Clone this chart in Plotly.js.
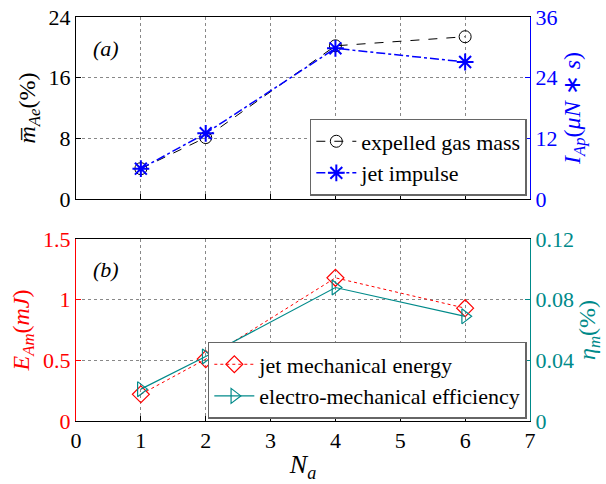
<!DOCTYPE html>
<html><head><meta charset="utf-8">
<script src="https://cdn.plot.ly/plotly-3.0.1.min.js"></script>
<style>
body{margin:0;padding:0;background:#fff}#chart{width:606px;height:484px}
</style>
</head><body><div id="chart"></div>
<script>
const Na = [1, 2, 4, 6];
const gasMass = [4.0, 8.1, 20.2, 21.4];      // left axis (%)
const jetImpulse = [6.0, 13.0, 29.8, 27.1];  // right axis (uN*s)
const mechEnergy = [0.22, 0.51, 1.18, 0.93]; // left axis (mJ)
const efficiency = [0.021, 0.0425, 0.088, 0.069]; // right axis (%)
const xTicks = [0,1,2,3,4,5,6,7];

const FONT = 'Liberation Serif';
const TEAL = '#008a8a';
function F(size, color) { return {family: FONT, size: size, color: color || '#000'}; }

const traces = [
  {x: Na, y: gasMass, name: 'expelled gas mass', xaxis:'x', yaxis:'y', mode:'lines+markers',
   line:{color:'#000', dash:'dash', width:1}, marker:{symbol:'circle-open', size:12, color:'#000', line:{width:1}}, legend:'legend'},
  {x: Na, y: jetImpulse, name: 'jet impulse', xaxis:'x', yaxis:'y2', mode:'lines+markers',
   line:{color:'#0000ff', dash:'dashdot', width:1.5}, marker:{symbol:'asterisk-open', size:14, color:'#0000ff', line:{width:2, color:'#0000ff'}}, legend:'legend'},
  {x: Na, y: mechEnergy, name: 'jet mechanical energy', xaxis:'x2', yaxis:'y3', mode:'lines+markers',
   line:{color:'#ff0000', dash:'dot', width:1}, marker:{symbol:'diamond-open', size:13, color:'#ff0000', line:{width:1.2}}, legend:'legend2'},
  {x: Na, y: efficiency, name: 'electro-mechanical efficiency', xaxis:'x2', yaxis:'y4', mode:'lines+markers',
   line:{color:TEAL, width:1.2}, marker:{symbol:'triangle-right-open', size:13, color:TEAL, line:{width:1.2}}, legend:'legend2'}
];

const GRID = '#888';
function xax(extra) {
  return Object.assign({range:[0,7], tickvals: xTicks, showline:true, mirror:true, linecolor:'#000', linewidth:1,
    ticks:'inside', ticklen:5, tickcolor:'#000', showgrid:true, gridcolor:GRID, griddash:'dot', gridwidth:1,
    zeroline:false, tickfont: F(22)}, extra);
}

const layout = {
  width: 606, height: 484,
  margin: {l: 76, r: 76, t: 17, b: 63},
  paper_bgcolor:'#fff', plot_bgcolor:'#fff',
  font: F(20),
  xaxis: xax({anchor:'y', showticklabels:false}),
  xaxis2: xax({anchor:'y3', title:{text:'<i>N<sub>a</sub></i>', font:F(26), standoff:2}}),
  yaxis: {domain:[0.5495,1], range:[0,24], tickvals:[0,8,16,24], anchor:'x', showline:true, linecolor:'#000',
    ticks:'inside', ticklen:5, tickcolor:'#000', showgrid:true, gridcolor:GRID, griddash:'dot', zeroline:false,
    tickfont: F(22), title:{text:'<i>m\u0305<sub>Ae</sub></i>(%)', font:F(24), standoff:6}},
  yaxis2: {overlaying:'y', side:'right', range:[0,36], tickvals:[0,12,24,36], anchor:'x', showline:true, linecolor:'#0000ff',
    ticks:'inside', ticklen:5, tickcolor:'#0000ff', showgrid:false, zeroline:false,
    tickfont: F(22,'#0000ff'), title:{text:'<i>I<sub>Ap</sub></i>(<i>\u03bcN</i> \u2217 <i>s</i>)', font:F(24,'#0000ff'), standoff:6}},
  yaxis3: {domain:[0,0.4505], range:[0,1.5], tickvals:[0,0.5,1,1.5], ticktext:['0','0.5','1','1.5'], anchor:'x2', showline:true, linecolor:'#ff0000',
    ticks:'inside', ticklen:5, tickcolor:'#ff0000', showgrid:true, gridcolor:GRID, griddash:'dot', zeroline:false,
    tickfont: F(22,'#ff0000'), title:{text:'<i>E<sub>Am</sub></i>(<i>mJ</i>)', font:F(24,'#ff0000'), standoff:6}},
  yaxis4: {overlaying:'y3', side:'right', range:[0,0.12], tickvals:[0,0.04,0.08,0.12], ticktext:['0','0.04','0.08','0.12'], anchor:'x2', showline:true, linecolor:TEAL,
    ticks:'inside', ticklen:5, tickcolor:TEAL, showgrid:false, zeroline:false,
    tickfont: F(22,TEAL), title:{text:'<i>\u03b7<sub>m</sub></i>(%)', font:F(24,TEAL), standoff:4}},
  legend: {x:0.993, y:0.557, xanchor:'right', yanchor:'bottom', bgcolor:'#fff', bordercolor:'#666', borderwidth:1.5,
    font:F(22), tracegroupgap:0, itemwidth:40},
  legend2: {x:0.993, y:0.005, xanchor:'right', yanchor:'bottom', bgcolor:'#fff', bordercolor:'#666', borderwidth:1.5,
    font:F(22), tracegroupgap:0, itemwidth:40},
  annotations: [
    {xref:'x', yref:'y', x:0.47, y:19.9, text:'<i>(a)</i>', showarrow:false, font:F(22)},
    {xref:'x2', yref:'y3', x:0.47, y:1.25, text:'<i>(b)</i>', showarrow:false, font:F(22)}
  ]
};
Plotly.newPlot('chart', traces, layout, {displayModeBar:false, staticPlot:true});
</script></body></html>
